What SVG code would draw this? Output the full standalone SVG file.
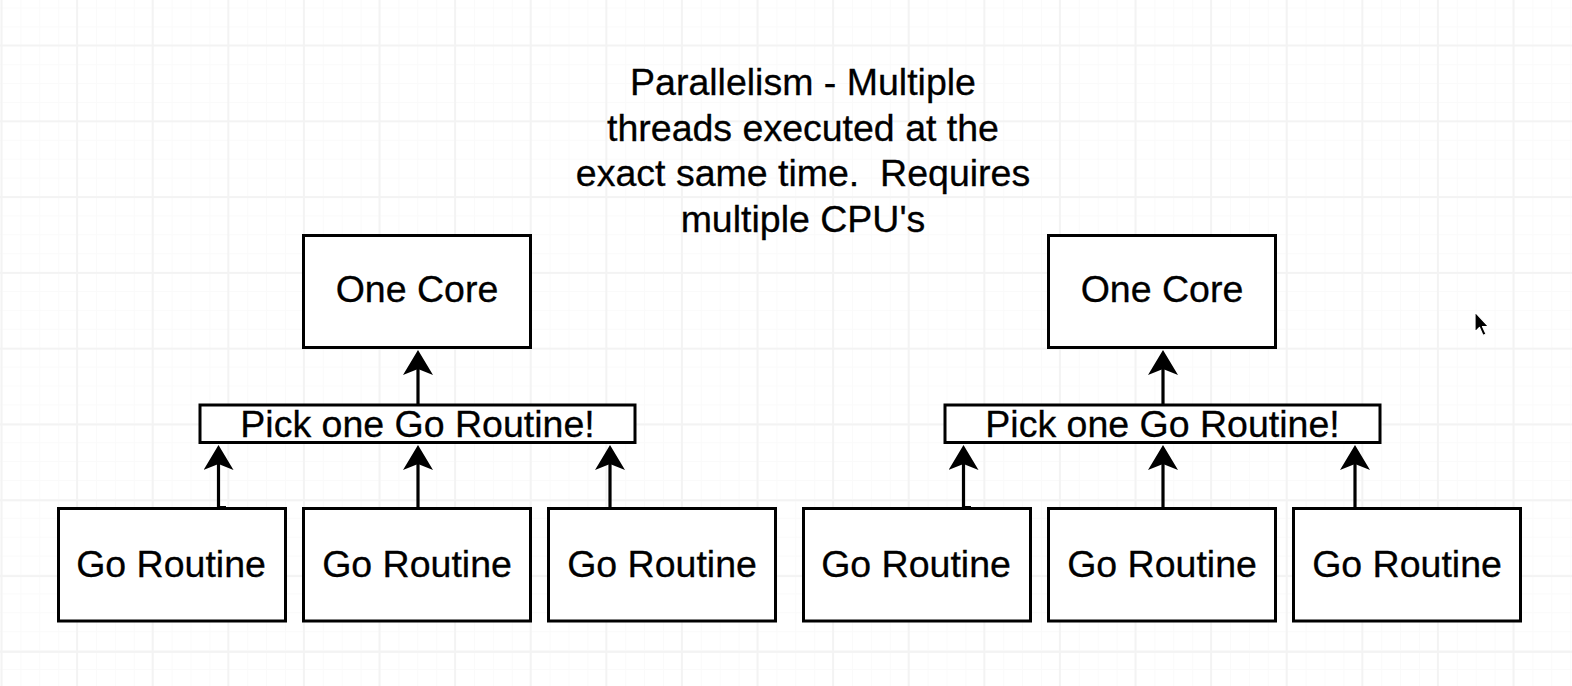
<svg xmlns="http://www.w3.org/2000/svg" width="1572" height="686" viewBox="0 0 1572 686">
<style>
.box{fill:#fff;stroke:#000;stroke-width:3}
.t{font-family:"Liberation Sans",Arial,Helvetica,sans-serif;font-size:37.5px;fill:#000;stroke:#000;stroke-width:0.3;text-anchor:middle}
.c{fill:none;stroke:#000;stroke-width:3.2}
</style>
<defs>
<pattern id="minor" patternUnits="userSpaceOnUse" x="1.5" y="7.5" width="18.9" height="18.9">
<path d="M0,0.5 H18.9 M0.5,0 V18.9" fill="none" stroke="#fafafa" stroke-width="1"/>
</pattern>
<pattern id="major" patternUnits="userSpaceOnUse" x="0.5" y="44.5" width="75.6" height="75.8">
<path d="M0,1 H75.6 M1,0 V75.8" fill="none" stroke="#f3f3f3" stroke-width="2"/>
</pattern>
<marker id="ah" viewBox="0 0 25 30" refX="17" refY="15" markerWidth="25" markerHeight="30" markerUnits="userSpaceOnUse" orient="auto">
<path d="M25,15 L0,0 L6,15 L0,30 Z" fill="#000"/>
</marker>
</defs>
<rect width="1572" height="686" fill="#fff"/>
<rect width="1572" height="686" fill="url(#minor)"/>
<rect width="1572" height="686" fill="url(#major)"/>

<g id="title">
<text class="t" x="803" y="95">Parallelism - Multiple</text>
<text class="t" x="803" y="140.5">threads executed at the</text>
<text class="t" x="803" y="186" xml:space="preserve">exact same time.  Requires</text>
<text class="t" x="803" y="231.5">multiple CPU's</text>
</g>

<g id="connectors">
<path class="c" d="M418,405 V358" marker-end="url(#ah)"/>
<path class="c" d="M226,507.5 H218.5 V453" marker-end="url(#ah)"/>
<path class="c" d="M418,508 V453" marker-end="url(#ah)"/>
<path class="c" d="M610,508 V453" marker-end="url(#ah)"/>
<path class="c" d="M1163,405 V358" marker-end="url(#ah)"/>
<path class="c" d="M971,507.5 H963.5 V453" marker-end="url(#ah)"/>
<path class="c" d="M1163,508 V453" marker-end="url(#ah)"/>
<path class="c" d="M1355,508 V453" marker-end="url(#ah)"/>
</g>

<g id="core-left"><rect class="box" x="303.5" y="235.5" width="227" height="112"/><text class="t" x="417" y="302">One Core</text></g>
<g id="pick-left"><rect class="box" x="200" y="405" width="435" height="37.5"/><text class="t" x="417.5" y="437">Pick one Go Routine!</text></g>
<g id="go-left-1"><rect class="box" x="58.5" y="508.5" width="227" height="112.5"/><text class="t" x="171" y="577">Go Routine</text></g>
<g id="go-left-2"><rect class="box" x="303.5" y="508.5" width="227" height="112.5"/><text class="t" x="417" y="577">Go Routine</text></g>
<g id="go-left-3"><rect class="box" x="548.5" y="508.5" width="227" height="112.5"/><text class="t" x="662" y="577">Go Routine</text></g>

<g id="core-right"><rect class="box" x="1048.5" y="235.5" width="227" height="112"/><text class="t" x="1162" y="302">One Core</text></g>
<g id="pick-right"><rect class="box" x="945" y="405" width="435" height="37.5"/><text class="t" x="1162.5" y="437">Pick one Go Routine!</text></g>
<g id="go-right-1"><rect class="box" x="803.5" y="508.5" width="227" height="112.5"/><text class="t" x="916" y="577">Go Routine</text></g>
<g id="go-right-2"><rect class="box" x="1048.5" y="508.5" width="227" height="112.5"/><text class="t" x="1162" y="577">Go Routine</text></g>
<g id="go-right-3"><rect class="box" x="1293.5" y="508.5" width="227" height="112.5"/><text class="t" x="1407" y="577">Go Routine</text></g>

<g id="cursor">
<path d="M1475,312 L1475,332 L1479.5,327.5 L1483,335.5 L1486,334 L1482.5,326.5 L1488.5,326.5 Z" fill="#000" stroke="#fff" stroke-width="1.2" stroke-linejoin="round"/>
</g>
</svg>
